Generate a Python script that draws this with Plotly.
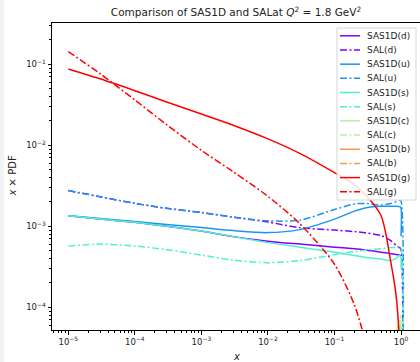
import plotly.graph_objects as go

# ---------------- data ----------------
x = [1e-5, 3e-5, 1e-4, 3e-4, 1e-3, 3e-3, 1e-2, 3e-2, 0.1, 0.2, 0.3, 0.5, 0.7, 0.85, 0.95, 0.99, 0.999]

sas_d = [1.355e-3, 1.233e-3, 1.119e-3, 1.005e-3, 8.73e-4, 7.46e-4, 6.56e-4, 6.03e-4, 5.53e-4,
         5.27e-4, 5.08e-4, 4.80e-4, 4.60e-4, 4.48e-4, 4.39e-4, 4.35e-4, 4.30e-4]
sal_d = [2.76e-3, 2.32e-3, 1.92e-3, 1.67e-3, 1.48e-3, 1.30e-3, 1.13e-3, 9.64e-4, 8.98e-4,
         8.61e-4, 8.29e-4, 7.67e-4, 6.66e-4, 5.78e-4, 5.46e-4, 5.30e-4, 1e-7]
sas_u = [1.355e-3, 1.245e-3, 1.143e-3, 1.05e-3, 9.64e-4, 8.85e-4, 8.36e-4, 9.10e-4, 1.227e-3,
         1.54e-3, 1.70e-3, 1.77e-3, 1.77e-3, 1.77e-3, 1.75e-3, 1.72e-3, 7.53e-4]
sal_u = [2.76e-3, 2.32e-3, 1.92e-3, 1.67e-3, 1.48e-3, 1.30e-3, 1.17e-3, 1.19e-3, 1.61e-3,
         1.89e-3, 1.91e-3, 1.83e-3, 1.91e-3, 2.02e-3, 2.09e-3, 2.10e-3, 1e-7]
sas_s = [1.355e-3, 1.233e-3, 1.119e-3, 1.005e-3, 8.73e-4, 7.46e-4, 6.29e-4, 5.53e-4, 4.80e-4,
         4.35e-4, 4.13e-4, 3.94e-4, 3.77e-4, 4.05e-4, 4.35e-4, 4.20e-4, 3.0e-4]
sal_s = [5.70e-4, 6.03e-4, 5.70e-4, 5.15e-4, 4.41e-4, 3.83e-4, 3.56e-4, 3.77e-4, 4.48e-4,
         4.88e-4, 5.08e-4, 5.30e-4, 5.46e-4, 5.53e-4, 5.62e-4, 5.60e-4, 1e-7]
sas_c = [1.0e-6, 1.5e-6, 2.0e-6, 3.0e-6, 4.0e-6, 5.0e-6, 7.0e-6, 1.0e-5, 1.5e-5,
         2.0e-5, 2.3e-5, 2.8e-5, 3.5e-5, 5.0e-5, 7.0e-5, 4.0e-5, 1e-6]
sal_c = [1.0e-6, 1.3e-6, 1.8e-6, 2.5e-6, 3.5e-6, 4.5e-6, 6.0e-6, 9.0e-6, 1.3e-5,
         1.8e-5, 2.1e-5, 2.6e-5, 3.2e-5, 4.0e-5, 6.0e-5, 8.0e-5, 1e-7]
sas_b = [5.0e-7, 7.0e-7, 1.0e-6, 1.4e-6, 2.0e-6, 2.8e-6, 4.0e-6, 5.5e-6, 7.5e-6,
         9.0e-6, 1.0e-5, 1.1e-5, 1.1e-5, 1.0e-5, 8.0e-6, 6.0e-6, 1e-6]
sal_b = [4.0e-7, 6.0e-7, 9.0e-7, 1.3e-6, 1.8e-6, 2.5e-6, 3.5e-6, 5.0e-6, 7.0e-6,
         8.5e-6, 9.5e-6, 1.0e-5, 1.0e-5, 9.0e-6, 7.0e-6, 5.0e-6, 1e-7]
sas_g = [8.77e-2, 6.62e-2, 4.72e-2, 3.43e-2, 2.43e-2, 1.77e-2, 1.20e-2, 7.97e-3, 4.61e-3,
         3.27e-3, 2.39e-3, 1.36e-3, 3.66e-4, 1.32e-4, 3.5e-5, 1.0e-5, 1e-6]
sal_g = [1.436e-1, 7.66e-2, 3.63e-2, 1.80e-2, 8.67e-3, 4.72e-3, 2.34e-3, 1.08e-3, 3.4e-4,
         1.06e-4, 3.5e-5, 8e-6, 2e-6, 1e-6, 5e-7, 2e-7, 1e-8]

flavours = ["d", "u", "s", "c", "b", "g"]
flavour_colors = ["#8000ff", "#1996f3", "#4df3ce", "#b2f396", "#ff964f", "#ff0000"]
sas_series = [sas_d, sas_u, sas_s, sas_c, sas_b, sas_g]
sal_series = [sal_d, sal_u, sal_s, sal_c, sal_b, sal_g]

x_tickvals = [1e-5, 1e-4, 1e-3, 1e-2, 1e-1, 1]
x_ticktext = ["10<sup>\u22125</sup>", "10<sup>\u22124</sup>", "10<sup>\u22123</sup>",
              "10<sup>\u22122</sup>", "10<sup>\u22121</sup>", "10<sup>0</sup>"]
y_tickvals = [1e-4, 1e-3, 1e-2, 1e-1]
y_ticktext = ["10<sup>\u22124</sup>", "10<sup>\u22123</sup>", "10<sup>\u22122</sup>", "10<sup>\u22121</sup>"]

title_text = "Comparison of SAS1D and SALat <i>Q</i><sup>2</sup> = 1.8 GeV<sup>2</sup>"

# ---------------- layout geometry ----------------
W, H = 420, 362
ML, MR, MT, MB = 52, 0, 23, 32
PW, PH = W - ML - MR, H - MT - MB
FONT = "DejaVu Sans"
DASHDOT = "7px,2.5px,2px,2.5px"


def px_to_paper(px, py):
    return (px - ML) / PW, (H - MB - py) / PH


fig = go.Figure()
entries = []
for fl, col, sas, sal in zip(flavours, flavour_colors, sas_series, sal_series):
    fig.add_trace(go.Scatter(x=x, y=sas, mode="lines", name=f"SAS1D({fl})",
                             line=dict(color=col, width=1.5, shape="spline", smoothing=0.8),
                             showlegend=False))
    entries.append((f"SAS1D({fl})", col, "solid"))
    fig.add_trace(go.Scatter(x=x, y=sal, mode="lines", name=f"SAL({fl})",
                             line=dict(color=col, width=1.5, dash=DASHDOT, shape="spline", smoothing=0.8),
                             showlegend=False))
    entries.append((f"SAL({fl})", col, DASHDOT))

shapes = []
annotations = []

# light screenshot border strip on the left, as in the reference
sx0, sy0 = px_to_paper(0, 0)
sx1, sy1 = px_to_paper(4, H)
shapes.append(dict(type="rect", xref="paper", yref="paper", x0=sx0, x1=sx1, y0=sy1, y1=sy0,
                   line=dict(width=0), fillcolor="#f3f3f3", layer="below"))

# ---------------- hand-made legend (matplotlib-like, compact) ----------------
bx0, by0 = px_to_paper(337, 28)
bx1, by1 = px_to_paper(416, 200)
shapes.append(dict(type="rect", xref="paper", yref="paper", x0=bx0, x1=bx1, y0=by1, y1=by0,
                   line=dict(color="#d6d6d6", width=1), fillcolor="rgba(255,255,255,0.85)", layer="above"))
row0, row_step = 35.8, 14.18
for i, (label, col, dash) in enumerate(entries):
    cy = row0 + i * row_step
    lx0, ly = px_to_paper(340, cy)
    lx1, _ = px_to_paper(360, cy)
    shapes.append(dict(type="line", xref="paper", yref="paper", x0=lx0, x1=lx1, y0=ly, y1=ly,
                       line=dict(color=col, width=1.5, dash=dash), layer="above"))
    tx, ty = px_to_paper(365, cy)
    annotations.append(dict(text=label, xref="paper", yref="paper", x=tx, y=ty,
                            xanchor="left", yanchor="middle", showarrow=False,
                            font=dict(family=FONT, size=9, color="#222")))

# axis titles
ax_x, ax_y = px_to_paper(236, 356)
annotations.append(dict(text="<i>x</i>", xref="paper", yref="paper", x=ax_x, y=ax_y,
                        xanchor="center", yanchor="middle", showarrow=False,
                        font=dict(family=FONT, size=10, color="#222")))
ay_x, ay_y = px_to_paper(12, 176.5)
annotations.append(dict(text="<i>x</i> \u00d7 PDF", xref="paper", yref="paper", x=ay_x, y=ay_y,
                        xanchor="center", yanchor="middle", showarrow=False, textangle=-90,
                        font=dict(family=FONT, size=10, color="#222")))

axis_common = dict(type="log", showgrid=False, zeroline=False, showline=True,
                   linecolor="black", linewidth=1, ticks="outside", ticklen=3.5,
                   tickwidth=0.8, tickcolor="black",
                   tickfont=dict(family=FONT, size=8.5, color="#222"),
                   minor=dict(ticks="outside", ticklen=2, tickwidth=0.6, tickcolor="black",
                              dtick="D1", showgrid=False))

fig.update_layout(
    width=W, height=H,
    margin=dict(l=ML, r=MR, t=MT, b=MB, pad=0),
    paper_bgcolor="white", plot_bgcolor="white",
    showlegend=False,
    font=dict(family=FONT, size=10, color="#222"),
    title=dict(text=title_text, x=0.5, xref="paper", xanchor="center",
               y=1 - 12.5 / H, yref="container", yanchor="middle",
               font=dict(family=FONT, size=10.5, color="#222")),
    xaxis=dict(range=[-5.245, 0.285], tickvals=x_tickvals, ticktext=x_ticktext,
               mirror=True, **axis_common),
    yaxis=dict(range=[-4.280, -0.490], tickvals=y_tickvals, ticktext=y_ticktext,
               mirror=False, **axis_common),
    shapes=shapes,
    annotations=annotations,
)

fig.write_html("out.html")
